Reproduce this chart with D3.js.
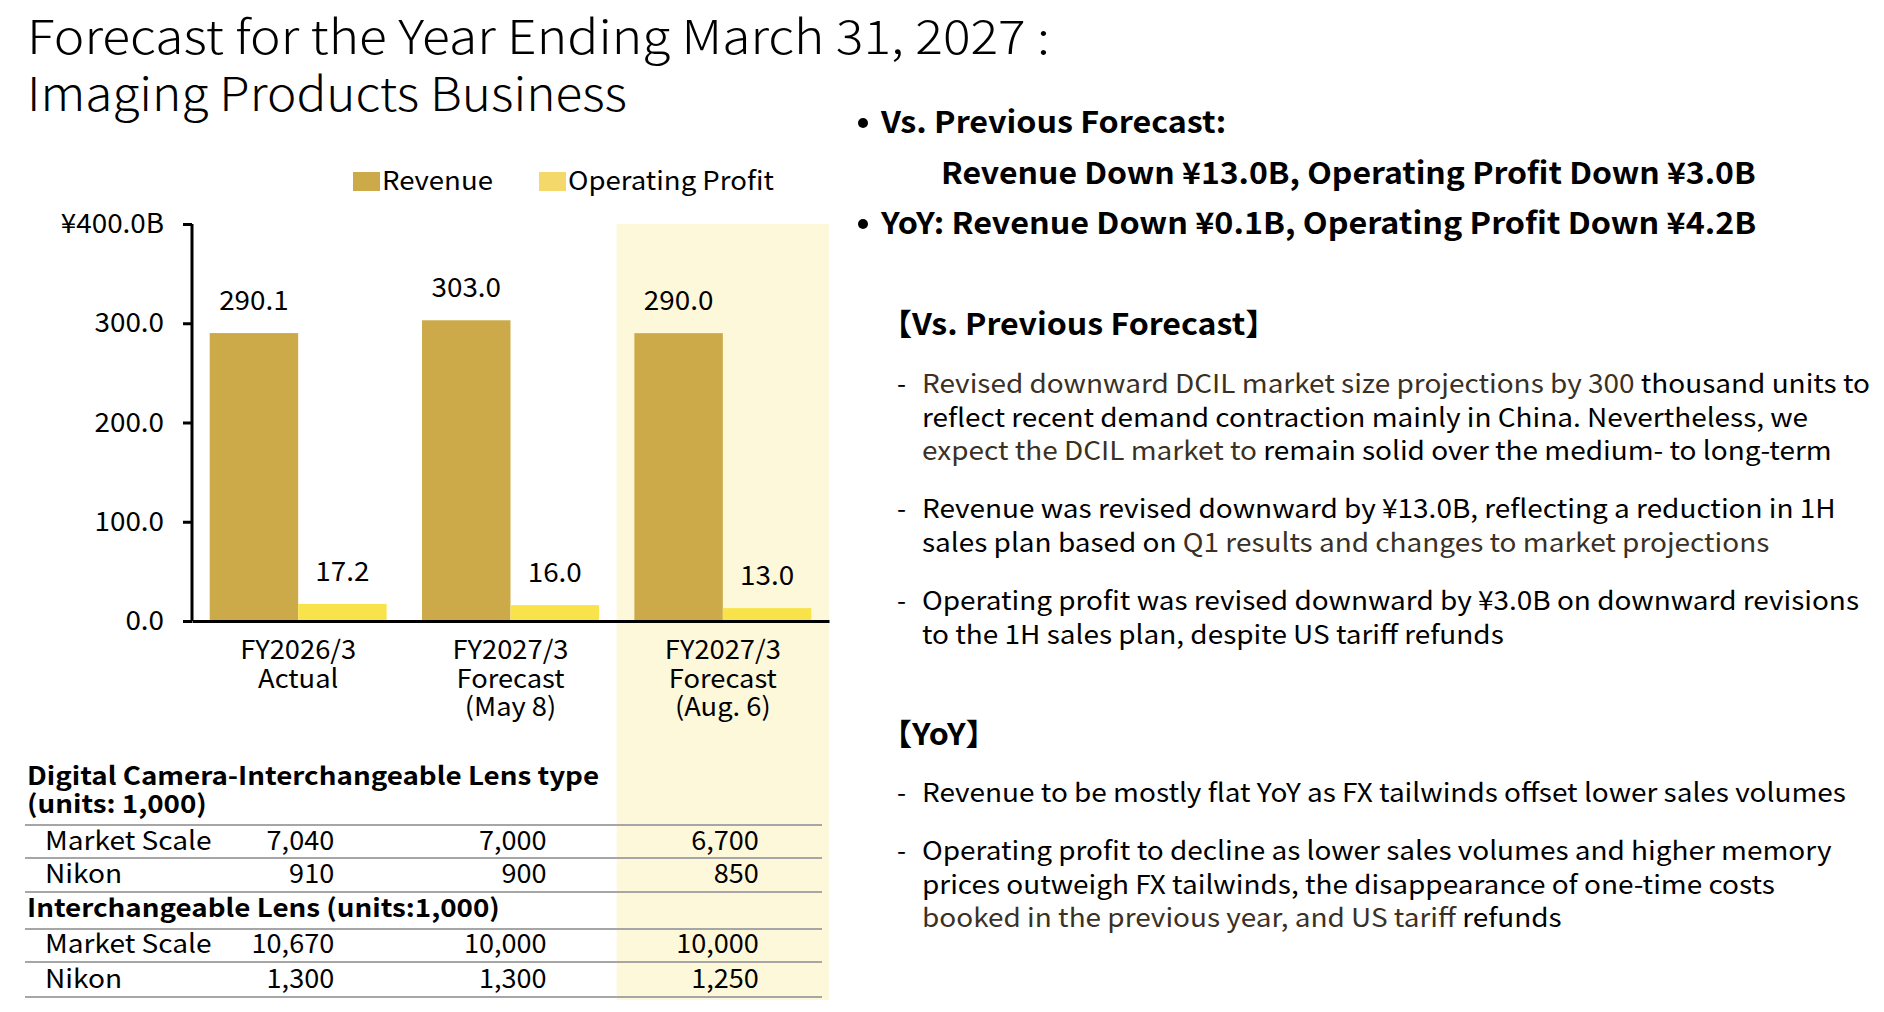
<!DOCTYPE html>
<html lang="en">
<head>
    <meta charset="UTF-8">
    <title>Forecast for the Year Ending March 31, 2027 : Imaging Products Business</title>
    <script src="https://cdn.jsdelivr.net/npm/d3@7"></script>
    <style>
        body { margin: 0; background: #fff; }
        svg { display: block; font-family: "Noto Sans CJK JP", "Noto Sans", sans-serif; }
    </style>
</head>
<body>
    <div id="chart"></div>
    <script>
        // chart values
        const categories = [["FY2026/3", "Actual"], ["FY2027/3", "Forecast", "(May 8)"], ["FY2027/3", "Forecast", "(Aug. 6)"]];
        const seriesNames = ["Revenue", "Operating Profit"];
        const revenue = [290.1, 303.0, 290.0];
        const opProfit = [17.2, 16.0, 13.0];
        const yTicks = [0, 100, 200, 300, 400];

        // unit table
        const dcilMarket = [7040, 7000, 6700];
        const dcilNikon = [910, 900, 850];
        const ilMarket = [10670, 10000, 10000];
        const ilNikon = [1300, 1300, 1250];

        const width = 1884, height = 1012;
        const colors = { Revenue: "#CCAA4A", "Operating Profit": "#F9E34B" };
        const legendColors = { Revenue: "#CCAA4A", "Operating Profit": "#F5D86A" };
        const dim = "#3b3024"; // slightly brown text used in some runs

        // the source font is wider than Noto, so stretch text a bit
        function widen(sel, k) {
            sel.each(function () {
                const len = this.getComputedTextLength();
                d3.select(this).attr("textLength", len * k).attr("lengthAdjust", "spacingAndGlyphs");
            });
            return sel;
        }

        const svg = d3.select("#chart").append("svg")
            .attr("width", width)
            .attr("height", height);

        // title
        svg.append("text").attr("x", 27).attr("y", 54).attr("font-size", 46).attr("font-weight", 300)
            .attr("textLength", 1023).attr("lengthAdjust", "spacingAndGlyphs")
            .text("Forecast for the Year Ending March 31, 2027 :");
        svg.append("text").attr("x", 27).attr("y", 111).attr("font-size", 46).attr("font-weight", 300)
            .attr("textLength", 600).attr("lengthAdjust", "spacingAndGlyphs")
            .text("Imaging Products Business");

        // scales
        const x = d3.scaleBand().domain(d3.range(categories.length)).range([192, 829]).padding(0);
        const xs = d3.scaleBand().domain(seriesNames).range([0, x.bandwidth()]).paddingInner(0).paddingOuter(0.2);
        const y = d3.scaleLinear().domain([0, 400]).range([621, 224]);

        // highlight column for latest forecast
        svg.append("rect")
            .attr("x", x(2)).attr("y", y(400))
            .attr("width", x.bandwidth()).attr("height", 1000 - y(400))
            .attr("fill", "#FEF8DA");

        // legend
        const legend = svg.append("g");
        const legendX = [353, 539];
        seriesNames.forEach((s, i) => {
            legend.append("rect").attr("x", legendX[i]).attr("y", 172).attr("width", 27).attr("height", 19)
                .attr("fill", legendColors[s]);
            widen(legend.append("text").attr("x", legendX[i] + 29).attr("y", 190).attr("font-size", 26).text(s), 1.06);
        });

        // bars
        const groups = svg.append("g").selectAll("g")
            .data(categories.map((c, i) => ({ i, values: [revenue[i], opProfit[i]] })))
            .join("g")
            .attr("transform", d => `translate(${x(d.i)},0)`);

        groups.selectAll("rect")
            .data(d => d.values.map((v, k) => ({ key: seriesNames[k], v })))
            .join("rect")
            .attr("x", d => xs(d.key))
            .attr("y", d => y(d.v))
            .attr("width", xs.bandwidth())
            .attr("height", d => y(0) - y(d.v))
            .attr("fill", d => colors[d.key]);

        widen(groups.selectAll("text")
            .data(d => d.values.map((v, k) => ({ key: seriesNames[k], v })))
            .join("text")
            .attr("x", d => xs(d.key) + xs.bandwidth() / 2)
            .attr("y", d => y(d.v) - 23)
            .attr("text-anchor", "middle")
            .attr("font-size", 27)
            .text(d => d.v.toFixed(1)), 1.03);

        // y axis
        const yAxis = svg.append("g")
            .attr("transform", "translate(192,0)")
            .call(d3.axisLeft(y).tickValues(yTicks).tickSize(9).tickPadding(19)
                .tickFormat(d => d === 400 ? "¥400.0B" : d.toFixed(1)))
            .attr("font-family", null).attr("font-size", null);
        yAxis.select(".domain").attr("stroke", "#000").attr("stroke-width", 3).attr("d", `M0,${y(400)}V${y(0)}`);
        yAxis.selectAll(".tick line").attr("stroke", "#000").attr("stroke-width", 3);
        widen(yAxis.selectAll(".tick text").attr("font-size", 27).attr("fill", "#000"), 1.03);

        // x axis
        const xAxis = svg.append("g")
            .attr("transform", `translate(0,${y(0)})`)
            .call(d3.axisBottom(x).tickSize(0).tickFormat(""))
            .attr("font-family", null).attr("font-size", null);
        xAxis.select(".domain").attr("stroke", "#000").attr("stroke-width", 3);
        xAxis.selectAll(".tick text").remove();
        xAxis.selectAll(".tick").each(function (d) {
            const g = d3.select(this);
            categories[d].forEach((line, k) => {
                widen(g.append("text")
                    .attr("x", 0).attr("y", 38 + k * 28.5)
                    .attr("text-anchor", "middle")
                    .attr("font-size", 26)
                    .attr("fill", "#000")
                    .text(line), 1.05);
            });
        });

        // unit table
        const fmt = d3.format(",");
        const tbl = svg.append("g");
        const colRight = d => x(d) + x.bandwidth() / 2 + 36;
        const sections = [
            { head: ["Digital Camera-Interchangeable Lens type", "(units: 1,000)"], headY: [785, 813],
              rows: [["Market Scale", dcilMarket, 850], ["Nikon", dcilNikon, 883]] },
            { head: ["Interchangeable Lens (units:1,000)"], headY: [917],
              rows: [["Market Scale", ilMarket, 953], ["Nikon", ilNikon, 988]] }
        ];
        const ruleY = [825, 858, 892, 929, 962, 997];
        sections.forEach(sec => {
            sec.head.forEach((h, k) => {
                widen(tbl.append("text").attr("x", 27).attr("y", sec.headY[k])
                    .attr("font-size", 25).attr("font-weight", "bold").text(h), 1.11);
            });
            sec.rows.forEach(r => {
                widen(tbl.append("text").attr("x", 45).attr("y", r[2]).attr("font-size", 26).text(r[0]), 1.08);
                widen(tbl.selectAll(null).data(r[1]).join("text")
                    .attr("x", (v, i) => colRight(i))
                    .attr("y", r[2])
                    .attr("text-anchor", "end")
                    .attr("font-size", 26)
                    .text(v => fmt(v)), 1.04);
            });
        });
        tbl.selectAll("line").data(ruleY).join("line")
            .attr("x1", 25).attr("x2", 822)
            .attr("y1", d => d).attr("y2", d => d)
            .attr("stroke", "#a6a6a6").attr("stroke-width", 2);

        // right side commentary
        const side = svg.append("g");
        const bold = (txt, xx, yy, k) => widen(side.append("text").attr("x", xx).attr("y", yy)
            .attr("font-size", 30).attr("font-weight", "bold").text(txt), k);
        side.append("circle").attr("cx", 863).attr("cy", 123).attr("r", 5);
        bold("Vs. Previous Forecast:", 881, 133, 1.075);
        bold("Revenue Down ¥13.0B, Operating Profit Down ¥3.0B", 941, 184, 1.065);
        side.append("circle").attr("cx", 863).attr("cy", 224).attr("r", 5);
        bold("YoY: Revenue Down ¥0.1B, Operating Profit Down ¥4.2B", 881, 234, 1.077);
        bold("【Vs. Previous Forecast】", 880, 335, 1.07);
        bold("【YoY】", 880, 745, 1.07);

        // each line is a list of [text, isDim] runs
        const notes = [
            { y: 393, lines: [[["Revised downward DCIL market size projections by 300", true], [" thousand units to", false]],
                              [["reflect recent demand contraction mainly in China. Nevertheless, we", false]],
                              [["expect the DCIL market to", true], [" remain solid over the medium- to long-term", false]]] },
            { y: 518, lines: [[["Revenue was revised downward by ¥13.0B, reflecting a reduction in 1H", false]],
                              [["sales plan based on ", false], ["Q1 results and changes to market projections", true]]] },
            { y: 610, lines: [[["Operating profit was revised downward by ¥3.0B on downward revisions", false]],
                              [["to the 1H sales plan, despite US tariff refunds", false]]] },
            { y: 802, lines: [[["Revenue to be mostly flat YoY as FX tailwinds offset lower sales volumes", false]]] },
            { y: 860, lines: [[["Operating profit to decline as lower sales volumes and higher memory", false]],
                              [["prices outweigh FX tailwinds, the disappearance of one-time costs", false]],
                              [["booked in the previous year, and US tariff", true], [" refunds", false]]] }
        ];
        notes.forEach(n => {
            side.append("text").attr("x", 897).attr("y", n.y).attr("font-size", 26).text("-");
            n.lines.forEach((runs, k) => {
                const t = side.append("text").attr("x", 922).attr("y", n.y + k * 33.5).attr("font-size", 26);
                runs.forEach(r => t.append("tspan").attr("fill", r[1] ? dim : "#000").text(r[0]));
                widen(t, 1.075);
            });
        });
    </script>
</body>
</html>
